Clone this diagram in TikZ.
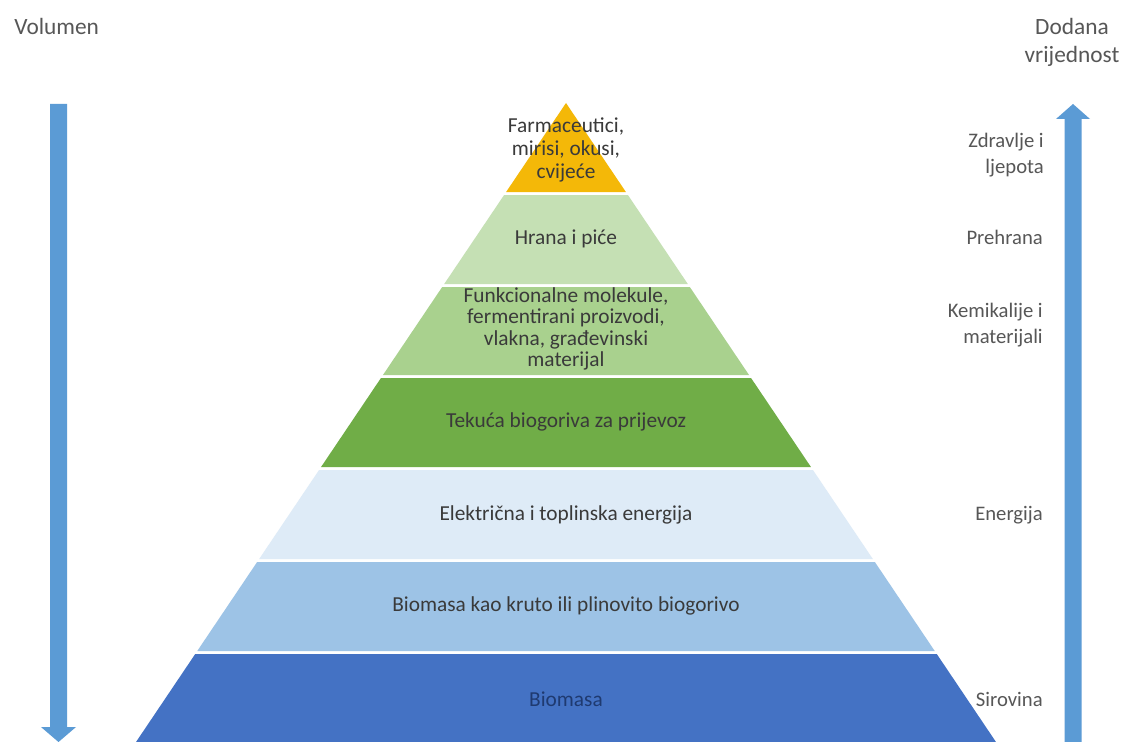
\documentclass[tikz,border=0pt]{standalone}
\usepackage{fontspec}
\setmainfont{Carlito}
\definecolor{cGold}{HTML}{F4B808}
\definecolor{cG1}{HTML}{C5E0B4}
\definecolor{cG2}{HTML}{A9D18E}
\definecolor{cG3}{HTML}{70AD47}
\definecolor{cB1}{HTML}{DEEBF7}
\definecolor{cB2}{HTML}{9DC3E6}
\definecolor{cB3}{HTML}{4472C4}
\definecolor{cArrow}{HTML}{5B9BD5}
\definecolor{cText}{HTML}{3A3A3A}
\definecolor{cNavy}{HTML}{1F3A70}
\begin{document}
\begin{tikzpicture}[x=0.75pt,y=-0.75pt,
  lbl/.style={text=cText,font=\fontsize{16}{16}\selectfont,align=center,inner sep=0pt},
  side/.style={text=cText!85,font=\fontsize{15.5}{20}\selectfont,align=right,inner sep=0pt,anchor=east},
  head/.style={text=cText!85,font=\fontsize{17.5}{21}\selectfont,align=center,inner sep=0pt},
  blockarrow/.style={fill=cArrow,draw=none}]
\useasboundingbox (0,0) rectangle (1125,742);
\fill[white] (0,0) rectangle (1125,742);
% pyramid layers: top y, bottom y, colour
\foreach \ya/\yb/\c in {103/192/cGold,195/284/cG1,287/375/cG2,378/467/cG3,470/559/cB1,562/651/cB2,654/742/cB3}{
  \fill[\c] ({566-(\ya-103)*0.6729},\ya) -- ({566+(\ya-103)*0.6729},\ya)
     -- ({566+(\yb-103)*0.6729},\yb) -- ({566-(\yb-103)*0.6729},\yb) -- cycle;
}
% layer texts
\node[lbl,font=\fontsize{16}{17.5}\selectfont] (t1) at (566,150) {Farmaceutici,\\mirisi, okusi,\\cvije\'ce};
\node[lbl] (t2) at (566,239) {Hrana i pi\'ce};
\node[lbl] (t3) at (566,329) {Funkcionalne molekule,\\fermentirani proizvodi,\\vlakna, gra\dj evinski\\materijal};
\node[lbl] (t4) at (566,422) {Teku\'ca biogoriva za prijevoz};
\node[lbl] (t5) at (566,515) {Elektri\v cna i toplinska energija};
\node[lbl] (t6) at (566,606) {Biomasa kao kruto ili plinovito biogorivo};
\node[lbl,text=cNavy] (t7) at (566,699) {Biomasa};
% side labels
\node[head,anchor=west] (vol) at (14,26) {Volumen};
\node[head] (dv) at (1072,42) {Dodana\\vrijednost};
\node[side] (s1) at (1044,155) {Zdravlje i\\ljepota};
\node[side] (s2) at (1043,237) {Prehrana};
\node[side] (s3) at (1043,325) {Kemikalije i\\materijali};
\node[side] (s4) at (1043,515) {Energija};
\node[side] (s5) at (1043,699) {Sirovina};
% left arrow (down)
\fill[blockarrow] (50,104) -- (67,104) -- (67,727) -- (76,727) -- (58.5,742) -- (41,727) -- (50,727) -- cycle;
% right arrow (up)
\fill[blockarrow] (1064.5,742) -- (1081.5,742) -- (1081.5,119) -- (1090,119) -- (1073,104) -- (1056,119) -- (1064.5,119) -- cycle;
\end{tikzpicture}
\end{document}
